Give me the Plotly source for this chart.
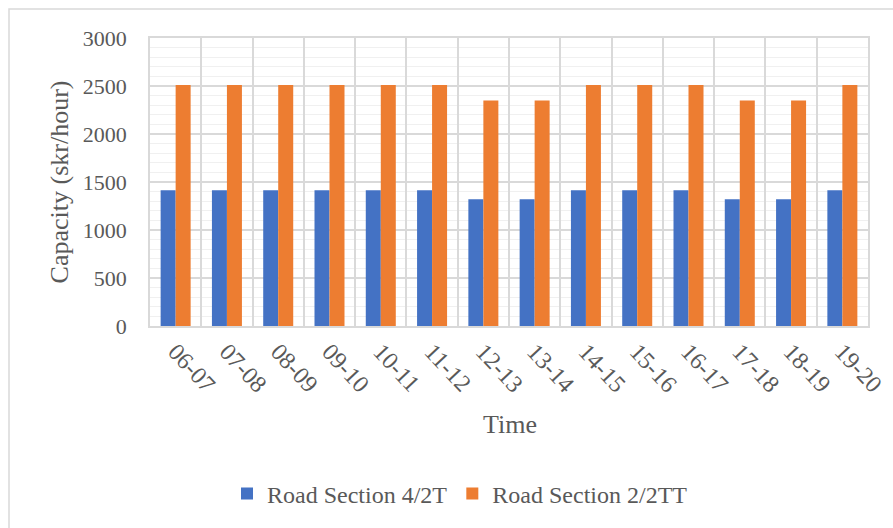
import plotly.graph_objects as go

categories = ["06-07", "07-08", "08-09", "09-10", "10-11", "11-12", "12-13",
              "13-14", "14-15", "15-16", "16-17", "17-18", "18-19", "19-20"]
road_4_2t = [1414, 1414, 1414, 1414, 1414, 1414, 1320,
             1320, 1414, 1414, 1414, 1320, 1320, 1414]
road_2_2tt = [2510, 2510, 2510, 2510, 2510, 2510, 2350,
              2350, 2510, 2510, 2510, 2350, 2350, 2510]

FONT = "Liberation Serif, Times New Roman, serif"
TXT = "#595959"
GRID = "#d9d9d9"

fig = go.Figure()
fig.add_trace(go.Bar(x=categories, y=road_4_2t, name="Road Section 4/2T",
                     marker=dict(color="#4472c4", line=dict(width=0))))
fig.add_trace(go.Bar(x=categories, y=road_2_2tt, name="Road Section 2/2TT",
                     marker=dict(color="#ed7d31", line=dict(width=0))))

W, H = 893, 528
L, R, T, B = 150, 25, 38, 202
pw, ph = W - L - R, H - T - B

def px(x):
    return (x - L) / pw

def py(y):
    return (H - B - y) / ph

fig.update_layout(
    width=W, height=H,
    margin=dict(l=L, r=R, t=T, b=B, autoexpand=False),
    paper_bgcolor="white", plot_bgcolor="white",
    barmode="group", bargap=0.415, bargroupgap=0,
    font=dict(family=FONT, color=TXT, size=21),
    showlegend=True,
    legend=dict(orientation="h", x=px(460), xanchor="center", y=py(494), yanchor="middle",
                font=dict(size=24, color=TXT, family=FONT), itemwidth=30,
                traceorder="normal", bgcolor="rgba(0,0,0,0)"),
    xaxis=dict(type="category", tickson="boundaries", showgrid=True, gridcolor=GRID,
               gridwidth=1.5, tickangle=47, ticks="", tickfont=dict(size=24, color=TXT),
               automargin=False,
               showline=True, linecolor=GRID, linewidth=2, mirror=True, zeroline=False),
    yaxis=dict(range=[0, 3000], dtick=500, showgrid=True, gridcolor=GRID, gridwidth=1.5,
               minor=dict(dtick=100, showgrid=True, gridcolor="#f0f0f0", gridwidth=1),
               tickfont=dict(size=22, color=TXT), ticks="", ticklen=0, ticklabelstandoff=17,
               automargin=False,
               showline=True, linecolor=GRID, linewidth=1.5, mirror=True, zeroline=False,
               title=dict(text="Capacity (skr/hour)", font=dict(size=26, color=TXT), standoff=7)),
    shapes=[dict(type="rect", xref="paper", yref="paper",
                 x0=px(9), x1=px(905), y0=py(540), y1=py(9),
                 line=dict(color=GRID, width=1.5), layer="below")],
    annotations=[dict(text="Time", xref="paper", yref="paper", x=px(510), y=py(424),
                      xanchor="center", yanchor="middle", showarrow=False,
                      font=dict(size=26, color=TXT, family=FONT))],
)

fig.write_html("out.html")
